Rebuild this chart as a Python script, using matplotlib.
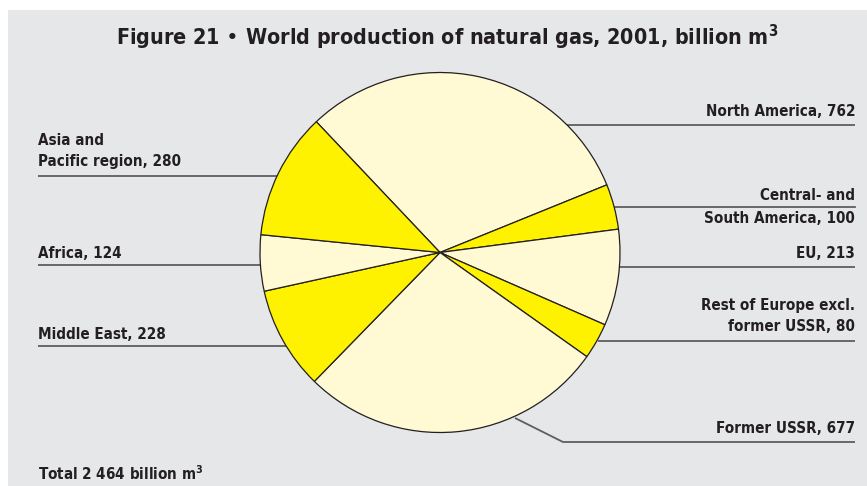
import matplotlib.pyplot as plt
from matplotlib.patches import Rectangle

regions = ['North America', 'Central- and\nSouth America', 'EU',
           'Rest of Europe excl.\nformer USSR', 'Former USSR', 'Middle East',
           'Africa', 'Asia and\nPacific region']
production = [762, 100, 213, 80, 677, 228, 124, 280]
total = sum(production)

LIGHT = '#FFFAD4'
BRIGHT = '#FFF200'
BG = '#E6E7E9'
INK = '#231F20'
LEAD = '#5E5E60'

colors = [LIGHT, BRIGHT, LIGHT, BRIGHT, LIGHT, BRIGHT, LIGHT, BRIGHT]

W, H = 867, 486
plt.rcParams['font.family'] = ['DejaVu Sans']
plt.rcParams['font.stretch'] = 'condensed'

fig = plt.figure(figsize=(W / 100, H / 100), dpi=100)
fig.patch.set_facecolor('white')
ax = fig.add_axes([0, 0, 1, 1])
ax.set_xlim(0, W)
ax.set_ylim(0, H)
ax.set_aspect('equal')
ax.axis('off')


def py(y):
    # flip screen-style y to axes y
    return H - y


ax.add_patch(Rectangle((8, 0), W - 8, py(10), facecolor=BG, edgecolor='none', zorder=0))

ax.pie(production, colors=colors, startangle=133.4, counterclock=False,
       center=(440, py(252.5)), radius=180, frame=True,
       wedgeprops=dict(edgecolor=INK, linewidth=0.9))
ax.set_xlim(0, W)
ax.set_ylim(0, H)
ax.axis('off')

ax.text(447, py(37), 'Figure 21 \u2022 World production of natural gas, 2001, billion m$^{\\mathbf{3}}$',
        ha='center', va='center', fontsize=15.4, fontweight='bold', color=INK)

lab_kw = dict(fontsize=10.9, fontweight='bold', color=INK, linespacing=1.5)


def label(i, x_text, y_text, ha, x0, x1, y_line, bend=None):
    txt = '%s, %d' % (regions[i], production[i])
    ax.text(x_text, py(y_text), txt, ha=ha, va='bottom', **lab_kw)
    xs, ys = [x0, x1], [py(y_line), py(y_line)]
    if bend is not None:
        xs = [bend[0]] + xs
        ys = [py(bend[1])] + ys
    ax.plot(xs, ys, color=LEAD, lw=1.3, zorder=0.5, solid_capstyle='butt')


# left side
label(7, 38, 169, 'left', 38, 280, 176)
label(6, 38, 261, 'left', 38, 262, 265)
label(5, 38, 342, 'left', 38, 290, 346)
# right side
label(0, 855, 119, 'right', 560, 855, 125)
ax.text(855, py(203), 'Central- and', ha='right', va='bottom', **lab_kw)
ax.text(855, py(226), 'South America, %d' % production[1], ha='right', va='bottom', **lab_kw)
ax.plot([615, 855], [py(207), py(207)], color=LEAD, lw=1.3, zorder=0.5)
label(2, 855, 261, 'right', 618, 855, 267)
label(3, 855, 334, 'right', 598, 855, 341)
label(4, 855, 436, 'right', 563, 855, 442, bend=(515, 418))

ax.text(38, py(483), 'Total 2 464 billion m$^{\\mathbf{3}}$', ha='left', va='bottom', **lab_kw)

fig.savefig('out.png', dpi=100, facecolor=fig.get_facecolor())
